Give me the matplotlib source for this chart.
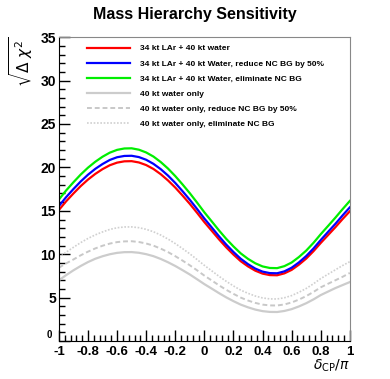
import numpy as np
import matplotlib.pyplot as plt
from matplotlib.ticker import MultipleLocator

plt.rcParams['font.family'] = ['Liberation Sans', 'DejaVu Sans']
plt.rcParams['mathtext.fontset'] = 'dejavusans'

# delta_CP / pi sample points (step 0.05)
dcp = np.round(np.arange(-1.0, 1.0001, 0.05), 2)

# sqrt(delta chi2)
lar_water = [15.1, 16.1, 17.0, 17.85, 18.6, 19.25, 19.8, 20.25, 20.55, 20.7, 20.72,
             20.57, 20.27, 19.82, 19.22, 18.5, 17.68, 16.76, 15.8, 14.77, 13.7,
             12.72, 11.73, 10.8, 9.96, 9.2, 8.6, 8.11, 7.77, 7.6, 7.58,
             7.8, 8.2, 8.8, 9.5, 10.35, 11.3, 12.2, 13.1, 14.05, 14.95]
lar_water_nc50 = [15.55, 16.58, 17.51, 18.38, 19.16, 19.83, 20.39, 20.86, 21.17, 21.32, 21.34,
                  21.19, 20.88, 20.41, 19.8, 19.06, 18.21, 17.26, 16.27, 15.21, 14.11,
                  13.1, 12.08, 11.12, 10.26, 9.48, 8.86, 8.35, 8.0, 7.83, 7.81,
                  8.03, 8.45, 9.06, 9.79, 10.66, 11.64, 12.57, 13.49, 14.47, 15.4]
lar_water_nonc = [16.3, 17.35, 18.29, 19.18, 19.97, 20.65, 21.23, 21.7, 22.02, 22.18, 22.2,
                  22.04, 21.72, 21.25, 20.62, 19.87, 19.0, 18.04, 17.03, 15.95, 14.83,
                  13.8, 12.76, 11.78, 10.9, 10.1, 9.47, 8.96, 8.6, 8.42, 8.4,
                  8.63, 9.05, 9.68, 10.42, 11.31, 12.31, 13.25, 14.2, 15.19, 16.14]
water = [7.0, 7.6, 8.15, 8.65, 9.1, 9.48, 9.77, 10.0, 10.16, 10.24, 10.25,
         10.17, 10.01, 9.78, 9.46, 9.08, 8.65, 8.17, 7.67, 7.12, 6.56,
         6.05, 5.53, 5.04, 4.6, 4.2, 3.89, 3.63, 3.45, 3.36, 3.35,
         3.47, 3.68, 3.99, 4.36, 4.8, 5.3, 5.7, 6.1, 6.45, 6.8]
water_nc50 = [8.45, 8.95, 9.4, 9.88, 10.3, 10.67, 10.98, 11.23, 11.4, 11.48, 11.5,
              11.41, 11.24, 10.99, 10.65, 10.25, 9.78, 9.27, 8.73, 8.15, 7.54,
              6.99, 6.43, 5.91, 5.44, 5.01, 4.67, 4.4, 4.2, 4.11, 4.1,
              4.22, 4.45, 4.78, 5.18, 5.66, 6.19, 6.6, 7.0, 7.4, 7.85]
water_nonc = [9.6, 10.24, 10.8, 11.34, 11.82, 12.23, 12.57, 12.86, 13.05, 13.14, 13.15,
              13.06, 12.87, 12.59, 12.21, 11.75, 11.23, 10.65, 10.05, 9.39, 8.72,
              8.1, 7.47, 6.89, 6.35, 5.87, 5.5, 5.19, 4.97, 4.86, 4.85,
              4.99, 5.24, 5.62, 6.06, 6.6, 7.2, 7.7, 8.2, 8.7, 9.15]

labels = ["34 kt LAr + 40 kt water",
          "34 kt LAr + 40 kt Water, reduce NC BG by 50%",
          "34 kt LAr + 40 kt Water, eliminate NC BG",
          "40 kt water only",
          "40 kt water only, reduce NC BG by 50%",
          "40 kt water only, eliminate NC BG"]
xtick_labels = ['-1', '-0.8', '-0.6', '-0.4', '-0.2', '0', '0.2', '0.4', '0.6', '0.8', '1']
ytick_labels = ['', '5', '10', '15', '20', '25', '30', '35']

fig = plt.figure(figsize=(3.9, 3.79), dpi=100)
ax = fig.add_axes([0.151, 0.100, 0.746, 0.802])

ax.plot(dcp, lar_water, color='#ff0000', lw=1.6, label=labels[0])
ax.plot(dcp, lar_water_nc50, color='#0000ff', lw=1.6, label=labels[1])
ax.plot(dcp, lar_water_nonc, color='#00ee00', lw=1.6, label=labels[2])
ax.plot(dcp, water, color='#cccccc', lw=1.6, label=labels[3])
ax.plot(dcp, water_nc50, color='#c8c8c8', lw=1.4, ls=(0, (2.5, 1.5)), label=labels[4])
ax.plot(dcp, water_nonc, color='#d0d0d0', lw=1.2, ls=(0, (1, 1)), label=labels[5])

ax.set_xlim(-1, 1)
ax.set_ylim(0, 35)
ax.set_xticks(np.round(np.arange(-1, 1.01, 0.2), 1))
ax.set_xticklabels(xtick_labels, fontweight='bold')
ax.set_yticks(np.arange(0, 36, 5))
ax.set_yticklabels(ytick_labels, fontweight='bold')
ax.xaxis.set_minor_locator(MultipleLocator(0.04))
ax.yaxis.set_minor_locator(MultipleLocator(1))
ax.tick_params(which='major', direction='in', length=8, width=1, top=False, right=False,
               labelsize=10, pad=2)
ax.tick_params(which='minor', direction='in', length=4, width=1, top=False, right=False)
ax.tick_params(axis='x', labelsize=9.5, pad=3.5)
# small "0" label of the y axis, sitting just above the corner
ax.text(-0.022, 0.004, '0', transform=ax.transAxes, ha='right', va='bottom',
        fontsize=7, fontweight='bold')

ax.spines['top'].set_color('#888888')
ax.spines['right'].set_color('#888888')

fig.text(0.5, 0.962, "Mass Hierarchy Sensitivity", ha='center', va='center',
         fontsize=11.5, fontweight='bold')
fig.text(0.055, 0.905, r'$\sqrt{\Delta\ \chi^{2}}$', rotation=90, ha='center', va='top',
         fontsize=11)
fig.text(0.897, 0.035, r'$\delta_{\rm CP}/\pi$', ha='right', va='center', fontsize=10)

ax.legend(loc='upper left', bbox_to_anchor=(0.07, 1.0), frameon=False,
          prop={'size': 6.0, 'weight': 'bold'}, handlelength=5.2,
          handletextpad=1.2, labelspacing=0.88)

fig.savefig('out.png', dpi=100)
